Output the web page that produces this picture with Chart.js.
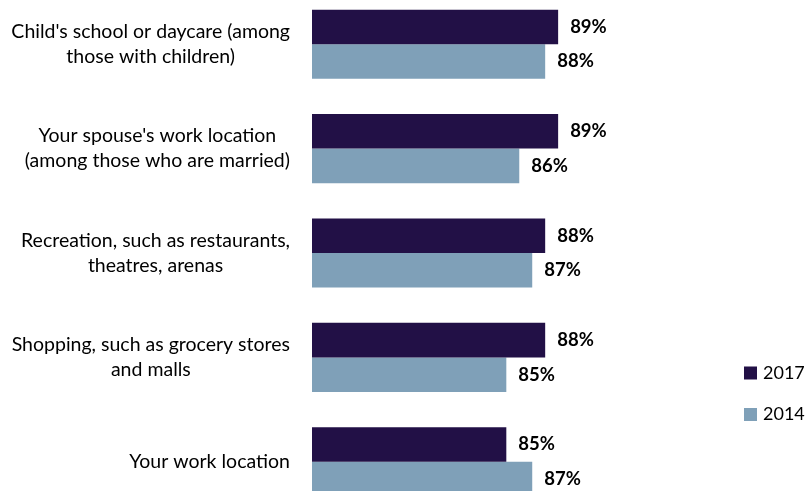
<!DOCTYPE html>
<html>
<head>
<meta charset="utf-8">
<script src="https://cdn.jsdelivr.net/npm/chart.js@4.4.1/dist/chart.umd.min.js"></script>
<style>
  html, body { margin: 0; padding: 0; background: #fff; width: 809px; height: 491px; overflow: hidden; }
  #wrap { position: absolute; left: 0; top: -8px; width: 809px; height: 522px; }
</style>
</head>
<body>
<div id="wrap"><canvas id="c"></canvas></div>
<script>
// Places considered when choosing where to live
const categories = [
  ["Child's school or daycare (among", "those with children)"],
  ["Your spouse's work location", "(among those who are married)"],
  ["Recreation, such as restaurants,", "theatres, arenas"],
  ["Shopping, such as grocery stores", "and malls"],
  ["Your work location"]
];
const seriesNames = ["2017", "2014"];
const values2017 = [89, 89, 88, 88, 85];
const values2014 = [88, 86, 87, 85, 87];
const seriesColors = ["#221046", "#7FA0B8"];

const FONT = "Lato, 'Open Sans', sans-serif";

// Category labels: right-aligned block, lines centred within the block
const categoryLabels = {
  id: 'categoryLabels',
  afterDraw(chart) {
    const ctx = chart.ctx;
    const y = chart.scales.y;
    const rightEdge = chart.chartArea.left - 22;
    ctx.save();
    ctx.font = "19.5px " + FONT;
    ctx.fillStyle = "#000";
    ctx.textBaseline = "middle";
    ctx.textAlign = "center";
    const lh = 25;
    chart.data.labels.forEach((lines, i) => {
      const cy = y.getPixelForValue(i);
      const w = Math.max(...lines.map(l => ctx.measureText(l).width));
      const cx = rightEdge - w / 2;
      const y0 = cy - (lines.length - 1) * lh / 2;
      lines.forEach((l, k) => ctx.fillText(l, cx, y0 + k * lh));
    });
    ctx.restore();
  }
};

// Percentage labels just past the end of each bar
const valueLabels = {
  id: 'valueLabels',
  afterDatasetsDraw(chart) {
    const ctx = chart.ctx;
    ctx.save();
    ctx.font = "bold 18.5px " + FONT;
    ctx.fillStyle = "#000";
    ctx.textBaseline = "middle";
    ctx.textAlign = "left";
    chart.data.datasets.forEach((ds, di) => {
      chart.getDatasetMeta(di).data.forEach((el, i) => {
        ctx.fillText(ds.data[i] + "%", el.x + 12, el.y);
      });
    });
    ctx.restore();
  }
};

// Legend drawn as a vertical list on the right
const sideLegend = {
  id: 'sideLegend',
  afterDraw(chart) {
    const ctx = chart.ctx;
    ctx.save();
    ctx.font = "18px " + FONT;
    ctx.textBaseline = "middle";
    ctx.textAlign = "left";
    chart.data.datasets.forEach((ds, i) => {
      const cy = 381 + i * 41.5;
      ctx.fillStyle = ds.backgroundColor;
      ctx.fillRect(744, cy - 6.5, 13, 13);
      ctx.fillStyle = "#000";
      ctx.fillText(ds.label, 763, cy);
    });
    ctx.restore();
  }
};

new Chart(document.getElementById('c'), {
  type: 'bar',
  data: {
    labels: categories,
    datasets: [
      { label: seriesNames[0], data: values2017, backgroundColor: seriesColors[0] },
      { label: seriesNames[1], data: values2014, backgroundColor: seriesColors[1] }
    ]
  },
  options: {
    indexAxis: 'y',
    responsive: true,
    maintainAspectRatio: false,
    animation: false,
    layout: { padding: { left: 0, right: 212, top: 0, bottom: 0 } },
    datasets: { bar: { categoryPercentage: 0.662, barPercentage: 1.0, borderWidth: 0 } },
    scales: {
      x: { min: 70, max: 92, display: false },
      y: {
        grid: { display: false },
        border: { display: false },
        ticks: { display: false },
        afterFit(scale) { scale.width = 312; }
      }
    },
    plugins: {
      legend: { display: false },
      tooltip: { enabled: false }
    }
  },
  plugins: [categoryLabels, valueLabels, sideLegend]
});
</script>
</body>
</html>
